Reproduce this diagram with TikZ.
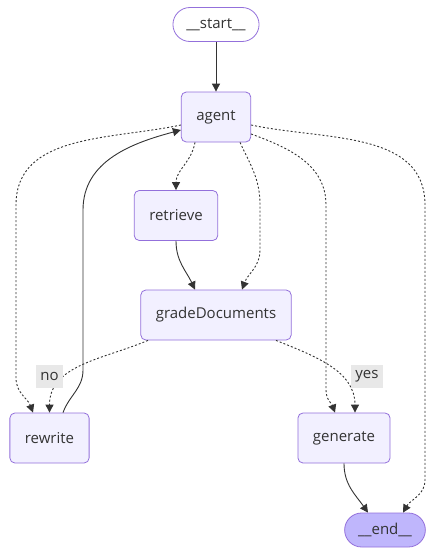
\documentclass[tikz,border=0pt]{standalone}
\usepackage{fontspec}
\setmainfont{Open Sans}
\usetikzlibrary{arrows.meta}
\definecolor{nodefill}{HTML}{F2F0FF}
\definecolor{nodeline}{HTML}{9370DB}
\definecolor{endfill}{HTML}{BFB6FC}
\definecolor{edge}{HTML}{333333}
\definecolor{labelfill}{HTML}{E8E8E8}
\tikzset{
  box/.style={draw=nodeline, fill=nodefill, line width=0.8pt, rounded corners=5pt,
    minimum height=50pt, inner xsep=15pt, text=edge, font=\fontsize{15}{18}\selectfont},
  term/.style={box, rounded corners=17pt, minimum height=34pt, inner xsep=13.5pt},
  solidline/.style={draw=edge, line width=0.9pt, -{Triangle[length=8pt,width=8pt]}},
  dotline/.style={solidline, dash pattern=on 2pt off 2pt},
  cond/.style={fill=labelfill, text=edge, inner xsep=4pt, minimum height=23pt,
    font=\fontsize{15}{18}\selectfont}
}

\begin{document}
\begin{tikzpicture}[x=1pt,y=1pt]
\useasboundingbox (0,0) rectangle (435,-555);
% nodes
\node[term, fill=none] (start) at (216,-24.5) {\_\_start\_\_};
\node[box] (agent) at (216,-117) {agent};
\node[box] (retrieve) at (176,-215.5) {retrieve};
\node[box] (gradeDocuments) at (216,-315) {gradeDocuments};
\node[box] (rewrite) at (49.5,-438) {rewrite};
\node[box] (generate) at (344,-438) {generate};
\node[term, fill=endfill] (end) at (385,-530) {\_\_end\_\_};
% edges
\draw[solidline] (start) -- (agent);
\draw[dotline] ([xshift=-21pt]agent.south) to[out=-100,in=90] (retrieve.north);
\draw[dotline] ([xshift=24pt]agent.south) to[out=-65,in=90] (260,-205) -- (260,-250)
  to[out=-90,in=70] ([xshift=26pt]gradeDocuments.north);
\draw[dotline] ([yshift=-17pt]agent.east) to[out=-20,in=90] (326,-205) -- (326,-390)
  to[out=-90,in=110] ([xshift=-9pt]generate.north);
\draw[dotline] ([yshift=-8pt]agent.east) to[out=-12,in=90] (425,-205) -- (425,-480)
  to[out=-90,in=60] ([xshift=18pt]end.north);
\draw[dotline] ([yshift=-8pt]agent.west) to[out=192,in=90] (16,-205) -- (16,-378)
  to[out=-90,in=110] ([xshift=-16.5pt]rewrite.north);
\draw[solidline] ([xshift=13.5pt]rewrite.north) to[out=70,in=-90] (83,-370) -- (83,-210)
  to[out=90,in=195] ([yshift=-13pt]agent.west);
\draw[solidline] (retrieve.south) to[out=-90,in=115] ([xshift=-21pt]gradeDocuments.north);
\draw[dotline] ([xshift=-68pt]gradeDocuments.south) to[out=-157,in=90] (rewrite.north);
\draw[dotline] ([xshift=60pt]gradeDocuments.south) to[out=-22,in=90] ([xshift=11pt]generate.north);
\draw[solidline] (generate.south) to[out=-90,in=125] ([xshift=-17pt]end.north);
% edge labels
\node[cond] (no) at (49.5,-376.5) {no};
\node[cond] (yes) at (367,-376.5) {yes};
\end{tikzpicture}
\end{document}
